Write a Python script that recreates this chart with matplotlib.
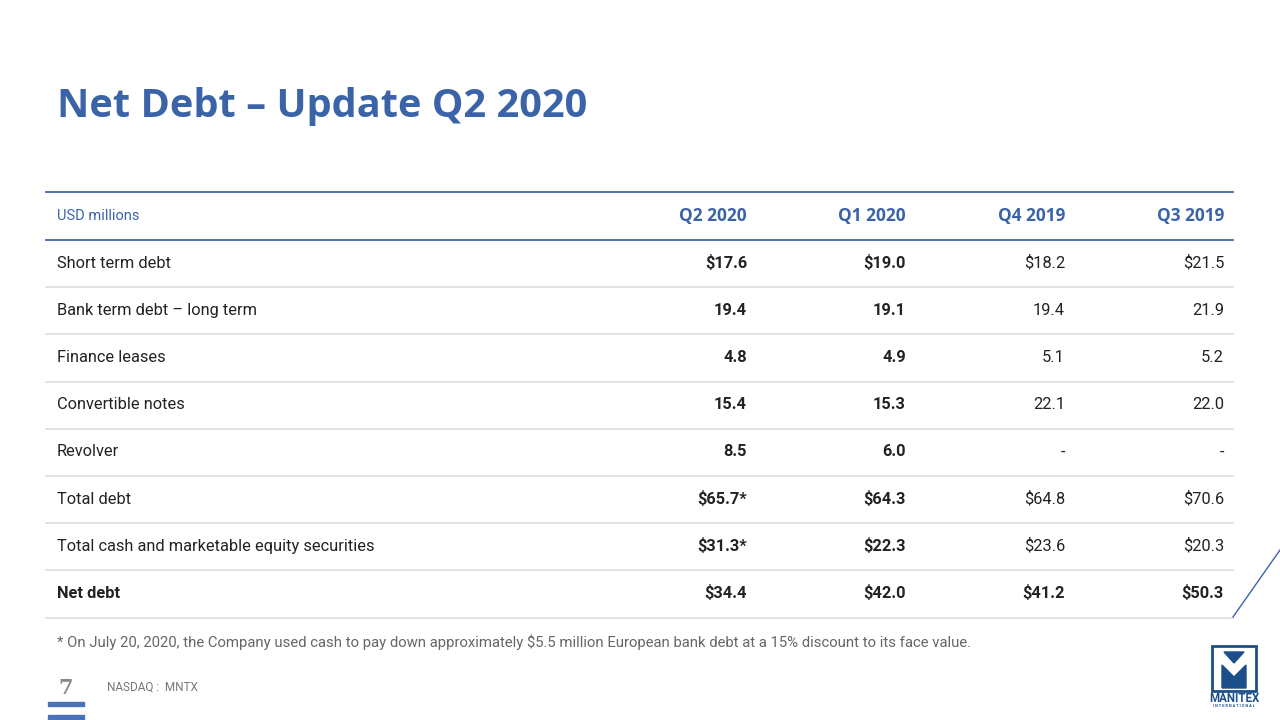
import matplotlib.pyplot as plt
from matplotlib.patches import Rectangle, Polygon

# table data (USD millions)
row_labels = ["Short term debt", "Bank term debt \u2013 long term", "Finance leases",
              "Convertible notes", "Revolver", "Total debt",
              "Total cash and marketable equity securities", "Net debt"]
quarters = ["Q2 2020", "Q1 2020", "Q4 2019", "Q3 2019"]
q2_2020 = [17.6, 19.4, 4.8, 15.4, 8.5, 65.7, 31.3, 34.4]
q1_2020 = [19.0, 19.1, 4.9, 15.3, 6.0, 64.3, 22.3, 42.0]
q4_2019 = [18.2, 19.4, 5.1, 22.1, None, 64.8, 23.6, 41.2]
q3_2019 = [21.5, 21.9, 5.2, 22.0, None, 70.6, 20.3, 50.3]
dollar_rows = [0, 5, 6, 7]
starred = {(0, 5), (0, 6)}   # (column, row) with footnote mark
bold_cols = [0, 1]
bold_rows = [7]

BLUE = "#3b64a8"
DARK = "#222222"
GRID = "#dddddd"
FONT = ["Roboto", "DejaVu Sans"]

fig = plt.figure(figsize=(12.8, 7.2), dpi=100)
ax = fig.add_axes([0, 0, 1, 1])
ax.set_xlim(0, 1280)
ax.set_ylim(720, 0)
ax.axis("off")

# title
ax.text(57, 106, "Net Debt \u2013 Update Q2 2020", fontsize=28.6, fontweight="bold",
        color=BLUE, family=["Open Sans", "DejaVu Sans"], va="center", ha="left")

# table layout
x0, x1 = 46, 1233
col_right = [747, 906, 1065, 1224]
header_y = 216
row_h = 47.2
first_y = 263

ax.plot([x0, x1], [192, 192], color=BLUE, lw=1.3)
ax.plot([x0, x1], [239.5, 239.5], color=BLUE, lw=1.3)
ax.text(57, header_y, "USD millions", fontsize=10.5, color=BLUE, family=FONT,
        va="center", ha="left")
for q, xr in zip(quarters, col_right):
    ax.text(xr, header_y, q, fontsize=12.4, color=BLUE, fontweight="bold",
            family=["Open Sans", "DejaVu Sans"], va="center", ha="right")

columns = [q2_2020, q1_2020, q4_2019, q3_2019]
for i, label in enumerate(row_labels):
    y = first_y + i * row_h
    lw = "bold" if i in bold_rows else "normal"
    ax.text(57, y, label, fontsize=11.8, color=DARK, family=FONT, fontweight=lw,
            va="center", ha="left")
    for c, (vals, xr) in enumerate(zip(columns, col_right)):
        v = vals[i]
        if v is None:
            s = "-"
        else:
            s = ("$" if i in dollar_rows else "") + f"{v:.1f}"
            if (c, i) in starred:
                s += "*"
        w = "bold" if (c in bold_cols or i in bold_rows) else "normal"
        ax.text(xr, y, s, fontsize=11.8, color=DARK, family=FONT, fontweight=w,
                va="center", ha="right")
    ly = y + row_h / 2 + 0.5
    ax.plot([x0, x1], [ly, ly], color=GRID, lw=1.2)

# diagonal accent at right edge
ax.plot([1233, 1280], [617, 550], color=BLUE, lw=1.0)

# footnote
ax.text(57, 642, "* On July 20, 2020, the Company used cash to pay down approximately "
        "$5.5 million European bank debt at a 15% discount to its face value.",
        fontsize=10.7, color="#666666", family=FONT, va="center", ha="left")

# footer
ax.text(58, 688, "7", fontsize=15, color="#888888", fontweight="bold",
        family=["DejaVu Serif"], va="center", ha="left")
ax.text(107, 687, "NASDAQ :  MNTX", fontsize=8.5, color="#777777", family=FONT,
        va="center", ha="left")
ax.add_patch(Rectangle((48, 702), 36, 3.5, color="#4a72b8"))
ax.add_patch(Rectangle((48, 715), 36, 5, color="#4a72b8"))

# logo
LOGO = "#1c4f8a"
ax.add_patch(Rectangle((1212, 646), 44, 45, fill=False, ec=LOGO, lw=2))
ax.add_patch(Polygon([[1224, 652], [1244, 652], [1234, 663]], color=LOGO))
ax.add_patch(Polygon([[1222, 665], [1234, 677], [1246, 665], [1246, 688],
                      [1222, 688]], color=LOGO))
ax.text(1234, 698, "MANITEX", fontsize=8.3, fontweight="bold", color=LOGO,
        family=FONT, va="center", ha="center")
ax.text(1234, 706, "I N T E R N A T I O N A L", fontsize=2.8, fontweight="bold",
        color=LOGO, family=FONT, va="center", ha="center")

fig.savefig("out.png", dpi=100, facecolor="white")
